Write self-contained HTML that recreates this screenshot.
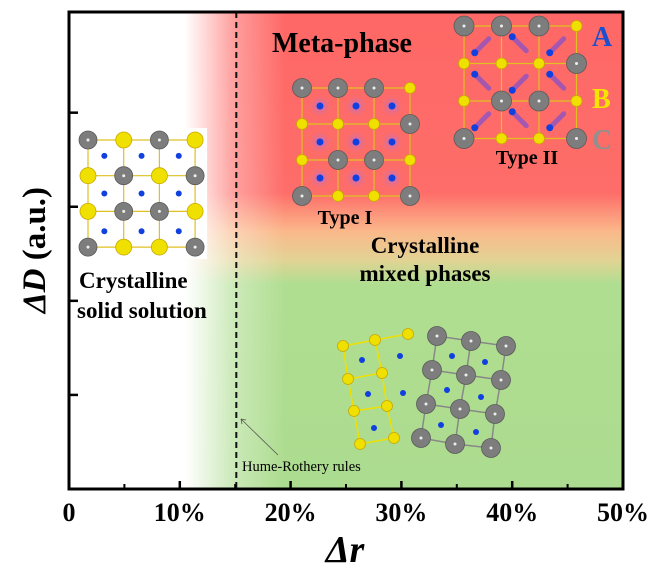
<!DOCTYPE html>
<html><head><meta charset="utf-8"><style>
html,body{margin:0;padding:0;background:#fff;}
svg{display:block;font-family:"Liberation Serif",serif;}
</style></head><body>
<svg id="chart" width="662" height="581" viewBox="0 0 662 581">
<defs>
<linearGradient id="vg" x1="0" y1="0" x2="0" y2="1">
<stop offset="0" stop-color="#fe6866"/>
<stop offset="0.38" stop-color="#fe6d69"/>
<stop offset="0.46" stop-color="#fbb88a"/>
<stop offset="0.52" stop-color="#e2d394"/>
<stop offset="0.57" stop-color="#b0de91"/>
<stop offset="1" stop-color="#acdc8f"/>
</linearGradient>
<linearGradient id="hg" x1="0" y1="0" x2="1" y2="0">
<stop offset="0" stop-color="#fff" stop-opacity="1"/>
<stop offset="0.21" stop-color="#fff" stop-opacity="1"/>
<stop offset="0.30" stop-color="#fff" stop-opacity="0.35"/>
<stop offset="0.39" stop-color="#fff" stop-opacity="0"/>
<stop offset="1" stop-color="#fff" stop-opacity="0"/>
</linearGradient>
<radialGradient id="halo"><stop offset="0" stop-color="#b070e0" stop-opacity="0.9"/><stop offset="1" stop-color="#e07090" stop-opacity="0"/></radialGradient>
</defs>
<g id="bg">
<rect x="69" y="12" width="554" height="477" fill="url(#vg)"/>
<rect x="69" y="12" width="554" height="477" fill="url(#hg)"/>
</g>
<g id="marks"></g>
<g id="axes"></g>
<text x="272" y="52" font-size="28" font-weight="bold">Meta-phase</text>
<text x="345" y="224" text-anchor="middle" font-size="20" font-weight="bold">Type I</text>
<text x="527" y="164" text-anchor="middle" font-size="20" font-weight="bold">Type II</text>
<text x="592" y="46" font-size="28" font-weight="bold" fill="#1a4fd0">A</text>
<text x="592" y="108" font-size="28" font-weight="bold" fill="#f5e400">B</text>
<text x="592" y="149" font-size="28" font-weight="bold" fill="#909090">C</text>
<text x="79" y="288" font-size="23" font-weight="bold">Crystalline</text>
<text x="77" y="318" font-size="23" font-weight="bold">solid solution</text>
<text x="425" y="253" text-anchor="middle" font-size="23" font-weight="bold">Crystalline</text>
<text x="425" y="281" text-anchor="middle" font-size="23" font-weight="bold">mixed phases</text>
<text x="242" y="471" font-size="14.5">Hume-Rothery rules</text>
<line x1="278" y1="455" x2="241" y2="419" stroke="#555" stroke-width="0.8"/>
<path d="M241 419 l1 5 M241 419 l5 1" stroke="#555" stroke-width="0.8"/>
<text x="345" y="562" text-anchor="middle" font-size="38" font-weight="bold" font-style="italic">Δr</text>
<text transform="translate(45,250) rotate(-90)" text-anchor="middle" font-size="33" font-weight="bold"><tspan font-style="italic">ΔD</tspan> (a.u.)</text>
</svg>
<script>
const xTickValues=[0,10,20,30,40,50];
const xTickLabels=["0","10%","20%","30%","40%","50%"];
const xMinorTicks=[5,15,25,35,45];
const yTickValues=[1,2,3,4];
const humeRotheryLimit=15.1;
const xMin=0,xMax=50,L=69,R=623,T=12,B=489;
const NS="http://www.w3.org/2000/svg";
function xs(v){return L+(v-xMin)/(xMax-xMin)*(R-L);}
function ys(v){return B-v*(B-T)/5.07;}
function mk(p,tag,a){const e=document.createElementNS(NS,tag);for(const k in a)e.setAttribute(k,a[k]);p.appendChild(e);return e;}
const axes=document.getElementById('axes'),marks=document.getElementById('marks');
const dl=mk(marks,'line',{x1:xs(humeRotheryLimit),x2:xs(humeRotheryLimit),y1:T,y2:B,stroke:'#111','stroke-width':2,'stroke-dasharray':'6,4'});


function atom(g,x,y,t,r){
  if(t==='G'){mk(g,'circle',{cx:x,cy:y,r:r||9,fill:'#7d7d7d',stroke:'#5a5a5a','stroke-width':0.8});mk(g,'circle',{cx:x,cy:y,r:1.5,fill:'#eee'});}
  else if(t==='Y'){mk(g,'circle',{cx:x,cy:y,r:r||7,fill:'#f0e000',stroke:'#c8a800','stroke-width':0.8});}
  else {mk(g,'circle',{cx:x,cy:y,r:r||3,fill:'#1040e0'});}
}
function grid(name,x0,y0,s,pat,bg,blue,yr,gr){
  const g=mk(marks,'g',{});
  
  
  if(bg)mk(g,'rect',{x:x0-12,y:y0-12,width:3*s+24,height:3*s+24,fill:bg});
  for(let i=0;i<4;i++){mk(g,'line',{x1:x0,x2:x0+3*s,y1:y0+i*s,y2:y0+i*s,stroke:'#e0c020','stroke-width':1.2});mk(g,'line',{y1:y0,y2:y0+3*s,x1:x0+i*s,x2:x0+i*s,stroke:'#e0c020','stroke-width':1.2});}
  for(let r=0;r<3;r++)for(let c=0;c<3;c++){const cx=x0+c*s+s/2,cy=y0+r*s+s/2;
    if(blue==='halo'){mk(g,'circle',{cx:cx,cy:cy,r:11,fill:'url(#halo)'});atom(g,cx,cy,'b',3.5);}
    else if(blue==='smear'){const d=(r+c)%2?1:-1;mk(g,'line',{x1:cx-8,y1:cy-8*d,x2:cx+6,y2:cy+6*d,stroke:'#8050d0','stroke-width':5,'stroke-linecap':'round',opacity:0.7});atom(g,cx-8,cy-8*d,'b',3.5);}
    else atom(g,cx+(c-1)*1.5,cy+(r-1)*2,'b',3);}
  for(let r=0;r<4;r++)for(let c=0;c<4;c++){const t=pat[r][c];atom(g,x0+c*s,y0+r*s,t,t==='Y'?yr:gr);}
}
grid('solid-solution-crystal',88,140,35.7,["GYGY","YGYG","YGGY","GYYG"],'#fff','plain',8,9);
grid('type-i-crystal',302,88,36,["GGGY","YYYG","YGGY","GYYG"],null,'halo',5.5,9.5);
grid('type-ii-crystal',464,26,37.5,["GGGY","YYYG","YGGY","GYYG"],null,'smear',5.5,10);
const mg=mk(marks,'g',{});


const Yp=[[343,346],[375,340],[408,334],[348,379],[382,373],[354,411],[387,406],[360,444],[394,438]];
const Ys=[[0,1],[1,2],[0,3],[3,4],[1,4],[3,5],[5,6],[4,6],[5,7],[7,8],[6,8]];
Ys.forEach(p=>mk(mg,'line',{x1:Yp[p[0]][0],y1:Yp[p[0]][1],x2:Yp[p[1]][0],y2:Yp[p[1]][1],stroke:'#f0e000','stroke-width':1.5}));
const Gp=[[437,336],[471,341],[506,346],[432,370],[466,375],[501,380],[426,404],[460,409],[495,414],[421,438],[455,444],[491,448]];
for(let r=0;r<4;r++)for(let c=0;c<3;c++){const i=r*3+c;if(c<2)mk(mg,'line',{x1:Gp[i][0],y1:Gp[i][1],x2:Gp[i+1][0],y2:Gp[i+1][1],stroke:'#888','stroke-width':1.5});if(r<3)mk(mg,'line',{x1:Gp[i][0],y1:Gp[i][1],x2:Gp[i+3][0],y2:Gp[i+3][1],stroke:'#888','stroke-width':1.5});}
[[362,360],[400,356],[368,394],[403,393],[374,428],[452,356],[485,362],[447,390],[481,397],[441,425],[476,432]].forEach(p=>atom(mg,p[0],p[1],'b',3));
Yp.forEach(p=>atom(mg,p[0],p[1],'Y',5.5));
Gp.forEach(p=>atom(mg,p[0],p[1],'G',9.5));
const fr=mk(axes,'rect',{x:L,y:T,width:R-L,height:B-T,fill:'none',stroke:'#000','stroke-width':3});


xTickValues.forEach((v,i)=>{
  const t=mk(axes,'line',{x1:xs(v),x2:xs(v),y1:B,y2:B-8,stroke:'#000','stroke-width':2.5});
  
  
  const l=mk(axes,'text',{x:xs(v),y:B+32,'text-anchor':'middle','font-size':26,'font-weight':'bold'});
  l.textContent=xTickLabels[i];
  
  
});
xMinorTicks.forEach(v=>{const t=mk(axes,'line',{x1:xs(v),x2:xs(v),y1:B,y2:B-5,stroke:'#000','stroke-width':2});
  
  });
yTickValues.forEach(v=>{const t=mk(axes,'line',{x1:L,x2:L+9,y1:ys(v),y2:ys(v),stroke:'#000','stroke-width':2.5});
  
  });
</script>
</body></html>
